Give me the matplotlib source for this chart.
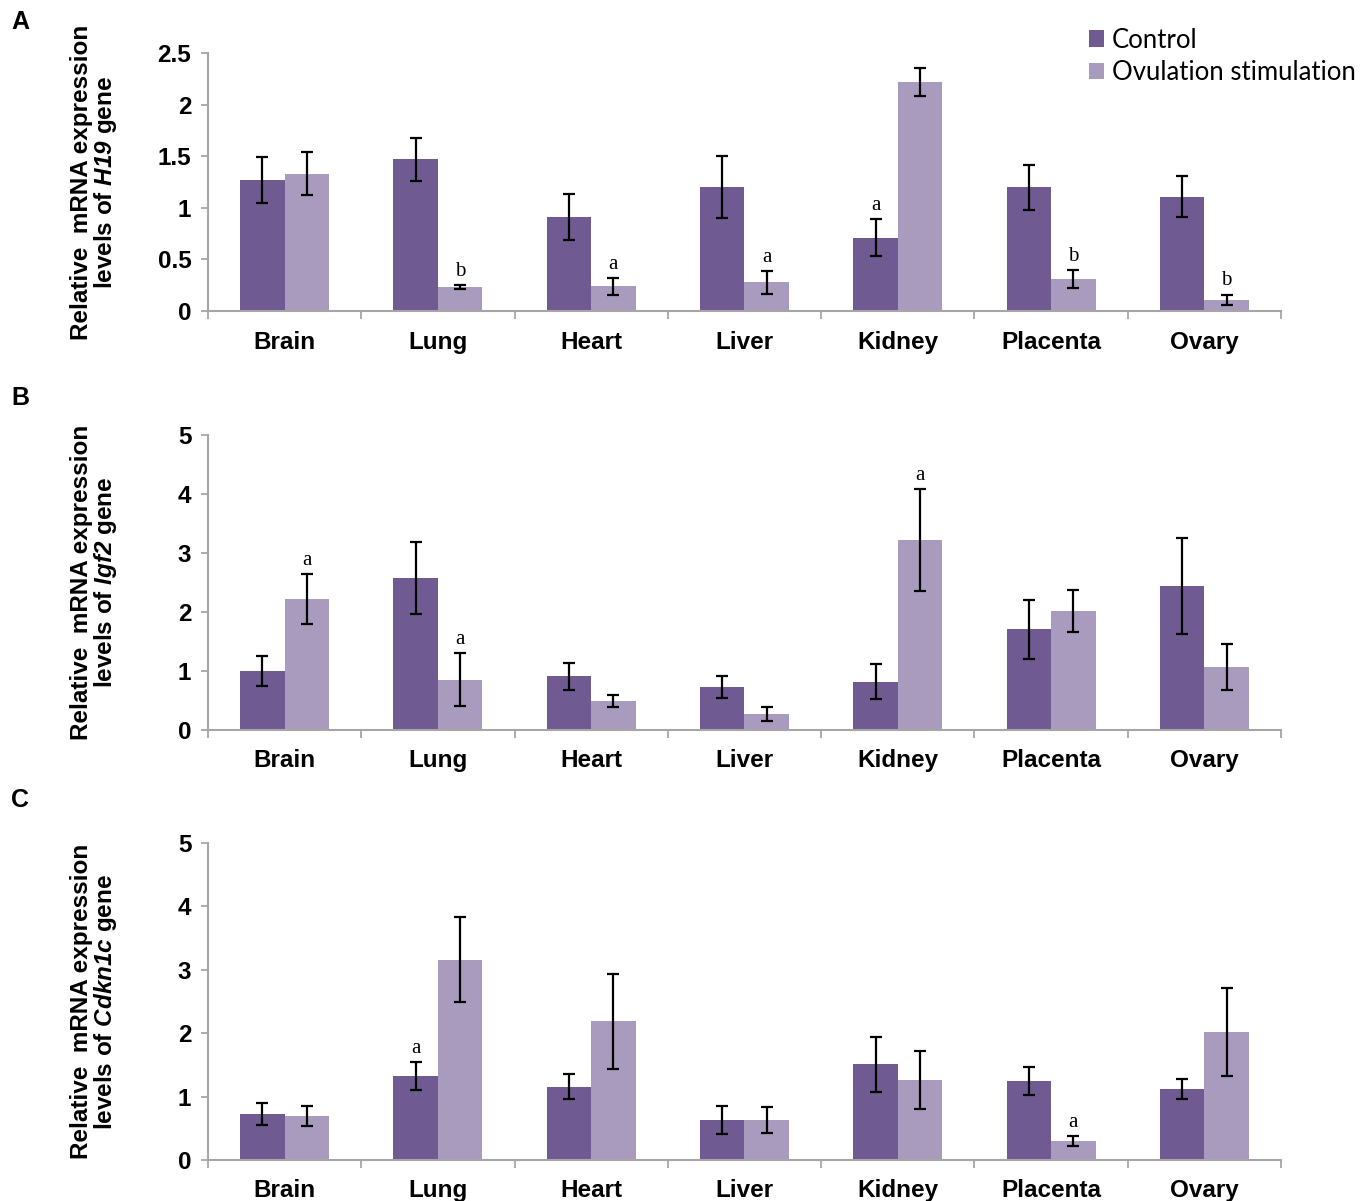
import matplotlib
matplotlib.use("Agg")
import matplotlib.pyplot as plt
import numpy as np

plt.rcParams['font.family'] = ['Liberation Sans', 'DejaVu Sans']
plt.rcParams['mathtext.fontset'] = 'custom'
plt.rcParams['mathtext.bfit'] = 'Liberation Sans:italic:bold'
plt.rcParams['mathtext.bf'] = 'Liberation Sans:bold'
plt.rcParams['mathtext.rm'] = 'Liberation Sans:bold'

tissues = ['Brain', 'Lung', 'Heart', 'Liver', 'Kidney', 'Placenta', 'Ovary']
series_names = ['Control', 'Ovulation stimulation']

# H19
h19_ctrl = [1.27, 1.47, 0.91, 1.20, 0.71, 1.20, 1.11]
h19_ctrl_err = [0.22, 0.21, 0.22, 0.30, 0.18, 0.22, 0.20]
h19_os = [1.33, 0.23, 0.24, 0.28, 2.22, 0.31, 0.11]
h19_os_err = [0.21, 0.02, 0.08, 0.11, 0.14, 0.09, 0.05]
h19_ctrl_sig = ['', '', '', '', 'a', '', '']
h19_os_sig = ['', 'b', 'a', 'a', '', 'b', 'b']

# Igf2
igf2_ctrl = [1.00, 2.58, 0.91, 0.73, 0.82, 1.71, 2.44]
igf2_ctrl_err = [0.26, 0.61, 0.23, 0.19, 0.30, 0.50, 0.81]
igf2_os = [2.22, 0.85, 0.49, 0.27, 3.22, 2.02, 1.06]
igf2_os_err = [0.42, 0.45, 0.10, 0.12, 0.86, 0.36, 0.39]
igf2_ctrl_sig = ['', '', '', '', '', '', '']
igf2_os_sig = ['a', 'a', '', '', 'a', '', '']

# Cdkn1c
cdkn_ctrl = [0.73, 1.33, 1.16, 0.63, 1.51, 1.24, 1.12]
cdkn_ctrl_err = [0.17, 0.22, 0.19, 0.22, 0.43, 0.22, 0.16]
cdkn_os = [0.70, 3.16, 2.19, 0.63, 1.26, 0.30, 2.02]
cdkn_os_err = [0.16, 0.67, 0.75, 0.20, 0.46, 0.08, 0.70]
cdkn_ctrl_sig = ['', 'a', '', '', '', '', '']
cdkn_os_sig = ['', '', '', '', '', 'a', '']

dark = '#6F5A92'
light = '#A99BBE'
axis_gray = '#A6A6A6'

fig = plt.figure(figsize=(13.68, 12.01), dpi=100)

panels = [
    ('A', [0.1520, 0.7410, 0.7844, 0.2148], 0.982, 'H19', h19_ctrl, h19_ctrl_err, h19_os, h19_os_err,
     h19_ctrl_sig, h19_os_sig, 2.5, [0, 0.5, 1, 1.5, 2, 2.5]),
    ('B', [0.1520, 0.3922, 0.7844, 0.2456], 0.669, 'Igf2', igf2_ctrl, igf2_ctrl_err, igf2_os, igf2_os_err,
     igf2_ctrl_sig, igf2_os_sig, 5, [0, 1, 2, 3, 4, 5]),
    ('C', [0.1520, 0.0341, 0.7844, 0.2639], 0.334, 'Cdkn1c', cdkn_ctrl, cdkn_ctrl_err, cdkn_os, cdkn_os_err,
     cdkn_ctrl_sig, cdkn_os_sig, 5, [0, 1, 2, 3, 4, 5]),
]

x = np.arange(len(tissues))
w = 0.29

for letter, rect, ly, gene, c, ce, o, oe, csig, osig, ymax, yt in panels:
    ax = fig.add_axes(rect)
    ebar = dict(ecolor='black', elinewidth=1.6, capsize=4.5, capthick=1.6)
    b1 = ax.bar(x - w / 2, c, w, yerr=ce, color=dark, error_kw=ebar, label=series_names[0])
    b2 = ax.bar(x + w / 2, o, w, yerr=oe, color=light, error_kw=ebar, label=series_names[1])
    # significance letters
    for i in range(len(tissues)):
        if csig[i]:
            ax.annotate(csig[i], (x[i] - w / 2, c[i] + ce[i]), xytext=(0, 3),
                        textcoords='offset points', ha='center', va='bottom',
                        fontsize=15, family='Liberation Serif')
        if osig[i]:
            ax.annotate(osig[i], (x[i] + w / 2, o[i] + oe[i]), xytext=(0, 3),
                        textcoords='offset points', ha='center', va='bottom',
                        fontsize=15, family='Liberation Serif')
    ax.set_xlim(-0.5, len(tissues) - 0.5)
    ax.set_ylim(0, ymax)
    ax.set_yticks(yt)
    ax.set_yticklabels(['%g' % v for v in yt], fontsize=17.5, fontweight='bold')
    ax.set_xticks(x)
    ax.set_xticklabels(tissues, fontsize=17.5, fontweight='bold')
    ax.set_xticks(np.arange(len(tissues) + 1) - 0.5, minor=True)
    ax.tick_params(axis='x', which='major', length=0, pad=14)
    ax.tick_params(axis='x', which='minor', length=6, width=1.3, color=axis_gray, direction='out')
    ax.tick_params(axis='y', length=5, width=1.3, color=axis_gray, pad=7)
    for s in ['top', 'right']:
        ax.spines[s].set_visible(False)
    for s in ['left', 'bottom']:
        ax.spines[s].set_color(axis_gray)
        ax.spines[s].set_linewidth(1.5)
    ax.set_ylabel('Relative  mRNA expression\nlevels of $\\mathbfit{' + gene + '}$ gene',
                  fontsize=17.5, fontweight='bold', linespacing=0.95)
    ax.yaxis.set_label_coords(-0.083, 0.5)
    fig.text(0.008, ly, letter, fontsize=18, fontweight='bold', va='center')
    if letter == 'A':
        fig.legend(handles=[b1, b2], loc='upper left', bbox_to_anchor=(0.796, 0.977),
                   frameon=False, prop={'family': 'Lato', 'size': 18.5},
                   handlelength=0.6, handleheight=0.6, handletextpad=0.3,
                   labelspacing=0.3, borderpad=0, borderaxespad=0)

fig.savefig('out.png', dpi=100)
